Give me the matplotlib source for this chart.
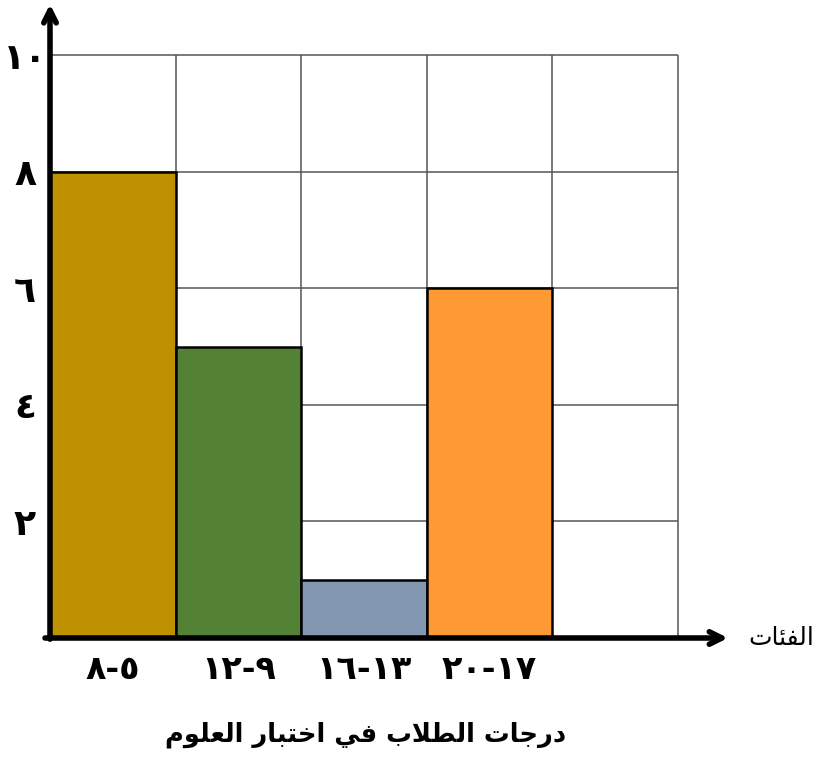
import matplotlib
matplotlib.use("Agg")
import matplotlib.pyplot as plt

plt.rcParams['font.family'] = ['DejaVu Sans']

# data (Arabic text is written in shaped presentation forms, visual order)
categories = ['\u0668-\u0665', '\u0661\u0662-\u0669', '\u0661\u0666-\u0661\u0663', '\u0662\u0660-\u0661\u0667']
counts = [8, 5, 1, 6]
bar_colors = ['#BF9000', '#548235', '#8497B0', '#FF9933']
y_ticks = [2, 4, 6, 8, 10]
y_tick_labels = ['\u0662', '\u0664', '\u0666', '\u0668', '\u0661\u0660']
n_cols = 5
title = ('\uFEE1\uFEEE\uFEE0\uFECC\uFEDF\uFE8D \uFEAD\uFE8E\uFE92\uFE98\uFEA7\uFE8D '
         '\uFEF2\uFED3 \uFE8F\uFEFC\uFEC4\uFEDF\uFE8D \uFE95\uFE8E\uFE9F\uFEAD\uFEA9')
x_name = '\uFE95\uFE8E\uFE8C\uFED4\uFEDF\uFE8D'

fig = plt.figure(figsize=(8.36, 7.63), dpi=100)
ax = fig.add_axes([50/836, 125/763, 678/836, 635/763])
ax.set_xlim(0, 5.4)
ax.set_ylim(0, 10.9)
for s in ax.spines.values():
    s.set_visible(False)

# grid only inside the 5 x 10 box
ax.hlines(y_ticks, 0, n_cols, color='#555555', lw=1.1, zorder=1)
ax.vlines(range(1, n_cols + 1), 0, max(y_ticks), color='#555555', lw=1.1, zorder=1)

x = range(len(counts))
ax.bar(x, counts, width=1, align='edge', color=bar_colors,
       edgecolor='black', linewidth=1.8, zorder=3)

# axes with arrow heads
arrow = dict(arrowstyle='->, head_length=0.9, head_width=0.45', lw=4, color='black',
             shrinkA=0, shrinkB=0)
ax.annotate('', xy=(0, 10.88), xytext=(0, -0.02), arrowprops=arrow, annotation_clip=False, zorder=5)
ax.annotate('', xy=(5.4, 0), xytext=(-0.04, 0), arrowprops=arrow, annotation_clip=False, zorder=5)

ax.set_yticks(y_ticks, y_tick_labels, fontsize=26, fontweight='bold')
for lab in ax.get_yticklabels():
    lab.set_horizontalalignment('center')
ax.set_xticks([i + 0.5 for i in x], categories, fontsize=24, fontweight='bold')
ax.tick_params(axis='both', length=0)
ax.tick_params(axis='y', pad=18)
ax.tick_params(axis='x', pad=11)

ax.text(5.56, 0, x_name, fontsize=18, ha='left', va='center')
fig.text(366/836, 1 - 735/763, title, fontsize=18.5, fontweight='bold', ha='center', va='center')

fig.savefig('out.png', dpi=100)
